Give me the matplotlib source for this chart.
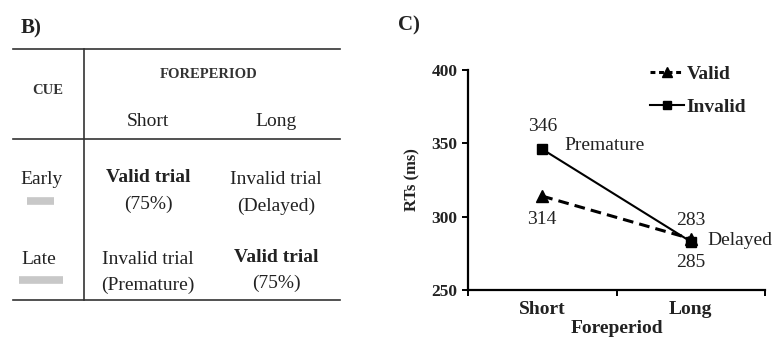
import matplotlib
matplotlib.use("Agg")
import matplotlib.pyplot as plt
from matplotlib.lines import Line2D

plt.rcParams['font.family'] = ['Liberation Serif', 'DejaVu Serif']

# ---- data ----
foreperiods = ["Short", "Long"]
valid_rt = [314, 285]
invalid_rt = [346, 283]
y_ticks = [250, 300, 350, 400]

# table contents
cue_rows = ["Early", "Late"]
table_cells = [["Valid trial", "(75%)", "Invalid trial", "(Delayed)"],
               ["Invalid trial", "(Premature)", "Valid trial", "(75%)"]]
bold_cells = [[True, False], [False, True]]

W, H = 773, 340
TXT = "#222222"
FS = 14
fig = plt.figure(figsize=(W / 100, H / 100), dpi=100)

# ---- panel B: design table (pixel layout axes) ----
tab = fig.add_axes([0, 0, 1, 1])
tab.set_xlim(0, W)
tab.set_ylim(H, 0)
tab.axis("off")

tab.text(21, 28, "B)", fontsize=15, fontweight="bold", va="center", ha="left", color=TXT)
lc = "#333333"
tab.plot([13, 340], [49, 49], color=lc, lw=1.2)
tab.plot([13, 340], [139, 139], color=lc, lw=1.2)
tab.plot([13, 340], [300, 300], color=lc, lw=1.2)
tab.plot([84, 84], [49, 300], color=lc, lw=1.2)

tab.text(48, 91, "CUE", fontsize=10.5, fontweight="bold", ha="center", va="center", color="#333333")
tab.text(209, 74, "FOREPERIOD", fontsize=10.5, fontweight="bold", ha="center", va="center", color="#333333")
col_x = [148, 276]
for cx, name in zip(col_x, foreperiods):
    tab.text(cx, 121, name, fontsize=FS, ha="center", va="center", color=TXT)

row_y = [(179, 206), (259, 285)]
row_lbl_x = [42, 39]
bar_spans = [(27, 54, 201), (19, 63, 280)]
for i, cue in enumerate(cue_rows):
    tab.text(row_lbl_x[i], row_y[i][0], cue, fontsize=FS, ha="center", va="center", color=TXT)
    x0, x1, yb = bar_spans[i]
    tab.plot([x0, x1], [yb, yb], color="#c8c8c8", lw=5.5, solid_capstyle="butt")
    for j in range(2):
        top, bot = table_cells[i][2 * j], table_cells[i][2 * j + 1]
        fw = "bold" if bold_cells[i][j] else "normal"
        dy = -2 if bold_cells[i][j] else 0
        tab.text(col_x[j], row_y[i][0] + dy, top, fontsize=FS, fontweight=fw,
                 ha="center", va="center", color=TXT)
        tab.text(col_x[j], row_y[i][1] + dy, bot, fontsize=FS,
                 ha="center", va="center", color=TXT)

# ---- panel C: RT line chart ----
fig.text(398 / W, 1 - 25 / H, "C)", fontsize=15, fontweight="bold", va="center", ha="left", color=TXT)
ax = fig.add_axes([468 / W, 50 / H, (765 - 468) / W, (290 - 70) / H])
xs = [0.5, 1.5]
ax.plot(xs, invalid_rt, color="black", lw=1.5, marker="s", markersize=6.5)
ax.plot(xs, valid_rt, color="black", lw=2.2, ls=(0, (3.5, 2)), marker="^", markersize=8)
ax.set_xlim(0, 2)
ax.set_ylim(250, 400)
ax.set_yticks(y_ticks)
ax.set_yticklabels([str(v) for v in y_ticks], fontsize=12.5, fontweight="bold", color=TXT)
ax.set_xticks([0, 1, 2])
ax.set_xticklabels([])
ax.set_xticks(xs, minor=True)
ax.set_xticklabels(foreperiods, minor=True, fontsize=FS, fontweight="bold", color=TXT)
ax.tick_params(axis="x", which="minor", length=0, pad=8)
ax.tick_params(axis="x", which="major", length=4, width=1.4, direction="out")
ax.tick_params(axis="y", length=4.5, width=1.4, direction="out", pad=3)
for s in ["top", "right"]:
    ax.spines[s].set_visible(False)
for s in ["left", "bottom"]:
    ax.spines[s].set_linewidth(1.6)
ax.set_xlabel("Foreperiod", fontsize=FS, fontweight="bold", labelpad=1.5, color=TXT)
ax.set_ylabel("RTs (ms)", fontsize=12, fontweight="bold", labelpad=8, color=TXT)

# value labels
ax.annotate(f"{invalid_rt[0]}", (xs[0], invalid_rt[0]), xytext=(0, 16.5), textcoords="offset points",
            ha="center", va="center", fontsize=FS, color=TXT)
ax.annotate(f"{valid_rt[0]}", (xs[0], valid_rt[0]), xytext=(0, -17), textcoords="offset points",
            ha="center", va="center", fontsize=FS, color=TXT)
ax.annotate(f"{invalid_rt[1]}", (xs[1], invalid_rt[1]), xytext=(0, 15), textcoords="offset points",
            ha="center", va="center", fontsize=FS, color=TXT)
ax.annotate(f"{valid_rt[1]}", (xs[1], valid_rt[1]), xytext=(0, -17), textcoords="offset points",
            ha="center", va="center", fontsize=FS, color=TXT)
ax.annotate("Premature", (xs[0], invalid_rt[0]), xytext=(16, 3), textcoords="offset points",
            ha="left", va="center", fontsize=FS, color=TXT)
ax.annotate("Delayed", (xs[1], invalid_rt[1]), xytext=(12, 1), textcoords="offset points",
            ha="left", va="center", fontsize=FS, color=TXT)

handles = [Line2D([], [], color="black", lw=2.2, ls=(0, (1.6, 1.2)), marker="^", markersize=7),
           Line2D([], [], color="black", lw=1.5, marker="s", markersize=6)]
leg = fig.legend(handles, ["Valid", "Invalid"], loc="upper left",
                 bbox_to_anchor=(632 / W, 1 - 48 / H), frameon=False,
                 handlelength=1.75, handletextpad=0.15, labelspacing=0.8,
                 prop={"size": FS, "weight": "bold"}, labelcolor=TXT)

fig.savefig("out.png", dpi=100)
